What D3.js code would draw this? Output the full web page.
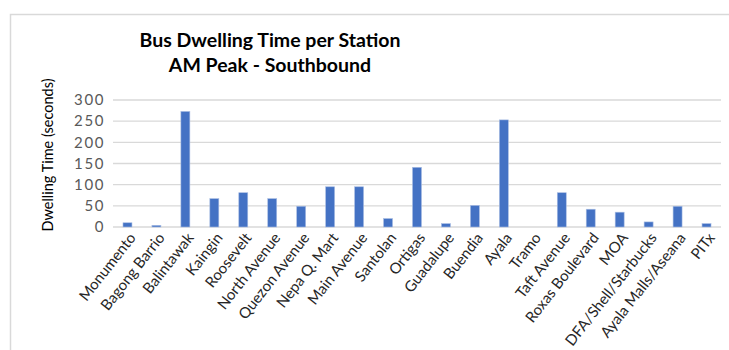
<!DOCTYPE html>
<html>
<head>
<meta charset="utf-8">
<script src="https://cdn.jsdelivr.net/npm/d3@7"></script>
<style>
  body { margin: 0; background: #fff; }
  .tick text { font-family: Lato, sans-serif; }
</style>
</head>
<body>
<div id="chart"></div>
<script>
  var stations = ['Monumento', 'Bagong Barrio', 'Balintawak', 'Kaingin', 'Roosevelt',
    'North Avenue', 'Quezon Avenue', 'Nepa Q. Mart', 'Main Avenue', 'Santolan',
    'Ortigas', 'Guadalupe', 'Buendia', 'Ayala', 'Tramo', 'Taft Avenue',
    'Roxas Boulevard', 'MOA', 'DFA/Shell/Starbucks', 'Ayala Malls/Aseana', 'PITx'];
  var dwell = [10, 4, 273, 67, 81, 67, 49, 95, 95, 20, 141, 8, 51, 253, 0, 81, 42, 35, 12, 49, 8];
  var yTicks = [0, 50, 100, 150, 200, 250, 300];

  var W = 729, H = 350;
  var margin = { top: 100, left: 113, right: 8, bottom: 123 },
    width = W - margin.left - margin.right,
    height = H - margin.top - margin.bottom;

  var root = d3.select('#chart').append('svg')
    .attr('width', W)
    .attr('height', H);

  // chart frame (only left/top edges visible in the crop)
  root.append('rect')
    .attr('x', 10.5).attr('y', 14.5)
    .attr('width', 740).attr('height', 360)
    .attr('fill', 'none')
    .attr('stroke', '#d9d9d9')
    .attr('stroke-width', 1.5);

  root.append('text')
    .attr('x', 270).attr('y', 47)
    .attr('text-anchor', 'middle')
    .style('font-family', 'Lato, sans-serif')
    .style('font-weight', 'bold')
    .style('font-size', '19.5px')
    .attr('fill', '#000')
    .text('Bus Dwelling Time per Station');
  root.append('text')
    .attr('x', 270).attr('y', 72)
    .attr('text-anchor', 'middle')
    .style('font-family', 'Lato, sans-serif')
    .style('font-weight', 'bold')
    .style('font-size', '19.5px')
    .attr('fill', '#000')
    .text('AM Peak - Southbound');

  var svg = root.append('g')
    .attr('transform', 'translate(' + margin.left + ',' + margin.top + ')');

  var x = d3.scaleBand()
    .domain(stations)
    .range([0, width])
    .paddingInner(0.69)
    .paddingOuter(0.345);

  var y = d3.scaleLinear()
    .domain([0, 300])
    .range([height, 0]);

  // gridlines
  svg.append('g')
    .selectAll('line')
    .data(yTicks)
    .enter()
    .append('line')
    .attr('x1', 0).attr('x2', width)
    .attr('y1', d => y(d)).attr('y2', d => y(d))
    .attr('stroke', '#d9d9d9')
    .attr('stroke-width', 1.3);

  var yAxis = d3.axisLeft(y)
    .tickValues(yTicks)
    .tickSize(0)
    .tickPadding(8);

  var gy = svg.append('g').call(yAxis);
  gy.select('.domain').remove();
  gy.selectAll('text')
    .attr('fill', '#595959')
    .style('font-size', '15px')
    .style('letter-spacing', '1.6px');

  svg.selectAll('.bar')
    .data(dwell)
    .enter()
    .append('rect')
    .attr('class', 'bar')
    .attr('x', (d, i) => x(stations[i]))
    .attr('y', d => y(d))
    .attr('width', x.bandwidth())
    .attr('height', d => height - y(d))
    .attr('fill', '#4472c4')
    .attr('stroke', '#a9bde3')
    .attr('stroke-width', 0.6);

  var xAxis = d3.axisBottom(x)
    .tickSize(0)
    .tickPadding(0);

  var gx = svg.append('g')
    .attr('transform', 'translate(0,' + height + ')')
    .call(xAxis);
  gx.select('.domain').remove();
  gx.selectAll('text')
    .attr('fill', '#262626')
    .style('font-size', '15px')
    .attr('text-anchor', 'end')
    .attr('dy', 0)
    .attr('transform', 'translate(9,11) rotate(-52)');

  root.append('text')
    .attr('transform', 'translate(53,155) rotate(-90)')
    .attr('text-anchor', 'middle')
    .style('font-family', 'Lato, sans-serif')
    .style('font-size', '14.5px')
    .attr('fill', '#000')
    .text('Dwelling Time (seconds)');
</script>
</body>
</html>
